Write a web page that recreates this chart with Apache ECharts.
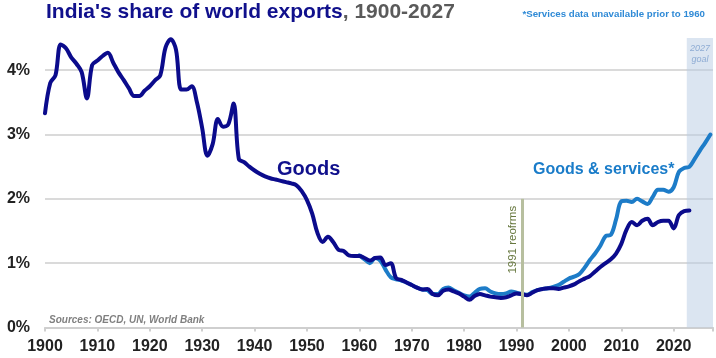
<!DOCTYPE html>
<html><head><meta charset="utf-8">
<script src="https://cdn.jsdelivr.net/npm/echarts@6/dist/echarts.min.js"></script>
<style>html,body{margin:0;padding:0;background:#fff}#c{width:716px;height:358px}</style>
</head><body><div id="c"></div>
<script>
// Goods share of world exports (%), 1900-2023
const goodsStartYear = 1900;
const goodsValues = [
  3.33, 3.80, 3.92, 4.40, 4.34, 4.20, 4.10, 3.97, 3.56, 4.08, // 1900-1909
  4.15, 4.22, 4.27, 4.12, 3.97, 3.85, 3.72, 3.60, 3.60, 3.68, // 1910-1919
  3.75, 3.84, 3.92, 4.35, 4.48, 4.32, 3.70, 3.70, 3.75, 3.50, // 1920-1929
  3.10, 2.67, 2.85, 3.24, 3.12, 3.16, 3.48, 2.62, 2.57, 2.50, // 1930-1939
  2.44, 2.39, 2.35, 2.32, 2.30, 2.28, 2.26, 2.24, 2.21, 2.12, // 1940-1949
  1.98, 1.77, 1.47, 1.33, 1.41, 1.33, 1.21, 1.19, 1.12, 1.11, // 1950-1959
  1.11, 1.08, 1.04, 1.08, 1.09, 0.97, 1.00, 0.77, 0.74, 0.70, // 1960-1969
  0.66, 0.62, 0.59, 0.60, 0.52, 0.50, 0.57, 0.59, 0.56, 0.53, // 1970-1979
  0.48, 0.43, 0.49, 0.52, 0.50, 0.48, 0.47, 0.46, 0.47, 0.50, // 1980-1989
  0.53, 0.52, 0.50, 0.54, 0.58, 0.60, 0.61, 0.61, 0.60, 0.62, // 1990-1999
  0.64, 0.67, 0.72, 0.76, 0.80, 0.87, 0.94, 1.00, 1.06, 1.15, // 2000-2009
  1.30, 1.52, 1.64, 1.59, 1.66, 1.69, 1.59, 1.64, 1.66, 1.66, // 2010-2019
  1.54, 1.75, 1.81, 1.82                                      // 2020-2023
];
// Goods & services share (%), 1960-2027 (2024-2027 = goal path)
const gsStartYear = 1960;
const gsValues = [
  1.12, 1.06, 1.00, 1.08, 1.04, 0.90, 0.78, 0.75, 0.73, 0.70, // 1960-1969
  0.66, 0.62, 0.59, 0.58, 0.52, 0.52, 0.60, 0.62, 0.58, 0.54, // 1970-1979
  0.50, 0.48, 0.54, 0.60, 0.61, 0.56, 0.53, 0.52, 0.53, 0.56, // 1980-1989
  0.54, 0.52, 0.51, 0.55, 0.58, 0.60, 0.61, 0.63, 0.66, 0.71, // 1990-1999
  0.76, 0.79, 0.83, 0.93, 1.05, 1.15, 1.27, 1.42, 1.44, 1.68, // 2000-2009
  1.96, 1.97, 1.95, 2.00, 1.96, 1.92, 2.03, 2.14, 2.14, 2.11, // 2010-2019
  2.18, 2.42, 2.48, 2.50, 2.62, 2.75, 2.87, 3.00              // 2020-2027
];
const yTicks = ['0%', '1%', '2%', '3%', '4%'];
const reformYear = 1991, reformTop = 2.0;
const goalStart = 2022.5, goalEnd = 2027.5;

const toPairs = (start, vals) => vals.map((v, i) => [start + i, v]);
const FONT = 'Liberation Sans, Arial, sans-serif';

const chart = echarts.init(document.getElementById('c'), null, {renderer: 'canvas'});
chart.setOption({
  animation: false,
  backgroundColor: '#fff',
  title: {
    text: "{a|India's share of world exports}{b|, 1900-2027}",
    left: 46, top: 2, padding: 0,
    textStyle: {
      rich: {
        a: {fontFamily: FONT, fontSize: 21, fontWeight: 'bold', color: '#10108c'},
        b: {fontFamily: FONT, fontSize: 21, fontWeight: 'bold', color: '#5a5a5a'}
      }
    }
  },
  grid: {left: 45, right: 2.5, top: 38, bottom: 30.5, containLabel: false},
  xAxis: {
    type: 'value', min: 1900, max: goalEnd, interval: 10,
    axisLine: {show: true, lineStyle: {color: '#cfcfcf', width: 2}},
    axisTick: {show: true, length: 4, lineStyle: {color: '#cfcfcf', width: 2}},
    splitLine: {show: false},
    axisLabel: {
      margin: 11, color: '#222', fontFamily: FONT, fontSize: 16, fontWeight: 'bold',
      formatter: v => (v % 10 === 0 ? String(v) : '')
    }
  },
  yAxis: {
    type: 'value', min: 0, max: 4.5, interval: 1,
    axisLine: {show: false}, axisTick: {show: false},
    splitLine: {show: true, lineStyle: {color: ['#dadada', '#dadada', '#dadada', '#dadada', '#dadada', 'rgba(0,0,0,0)'], width: 2}},
    axisLabel: {
      margin: 15, color: '#222', fontFamily: FONT, fontSize: 16, fontWeight: 'bold',
      formatter: v => (Number.isInteger(v) ? yTicks[v] : '')
    }
  },
  series: [
    {
      name: 'Goods & services', type: 'line', smooth: 0.35, showSymbol: false,
      data: toPairs(gsStartYear, gsValues),
      lineStyle: {color: '#1d7cc8', width: 4, cap: 'round', join: 'round'},
      z: 2,
      markArea: {
        silent: true,
        itemStyle: {color: 'rgba(184,204,228,0.5)'},
        label: {show: true, position: 'insideTop', distance: 5, formatter: '2027\ngoal',
          color: '#8eacd4', fontFamily: FONT, fontSize: 9, fontStyle: 'italic', lineHeight: 11},
        data: [[{xAxis: goalStart}, {xAxis: goalEnd}]]
      }
    },
    {
      name: 'Goods', type: 'line', smooth: 0.35, showSymbol: false,
      data: toPairs(goodsStartYear, goodsValues),
      lineStyle: {color: '#0b0b8c', width: 4, cap: 'round', join: 'round'},
      z: 3,
      markLine: {
        silent: true, symbol: 'none',
        lineStyle: {color: '#b7bf9f', width: 3, type: 'solid'},
        label: {show: true, position: 'insideEndTop', distance: [7, 3], formatter: '1991 reofrms',
          color: '#67783f', fontFamily: FONT, fontSize: 11.5},
        data: [[{coord: [reformYear, 0]}, {coord: [reformYear, reformTop]}]]
      }
    }
  ],
  graphic: [
    {type: 'text', right: 11, top: 9, style: {text: '*Services data unavailable prior to 1960',
      font: 'bold 9.7px ' + FONT, fill: '#2f8ad6'}},
    {type: 'text', left: 277, top: 159, style: {text: 'Goods', font: 'bold 20px ' + FONT, fill: '#10108c'}},
    {type: 'text', left: 533, top: 162, style: {text: 'Goods & services*', font: 'bold 16px ' + FONT, fill: '#1a7cc9'}},
    {type: 'text', left: 49, top: 315, style: {text: 'Sources: OECD, UN, World Bank', font: 'italic bold 10px ' + FONT, fill: '#808080'}}
  ]
});
</script>
</body></html>
